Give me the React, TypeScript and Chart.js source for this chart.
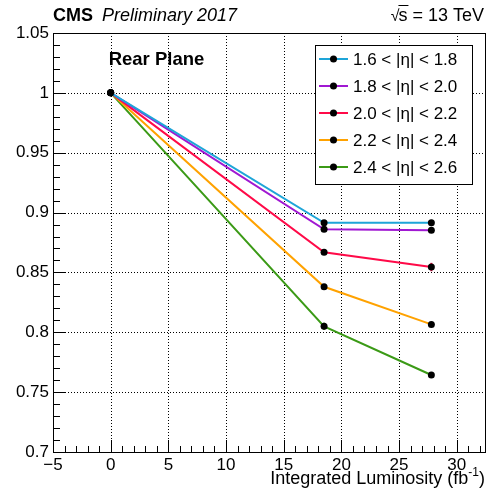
import React, { useEffect, useRef } from "react";
import { Chart, registerables } from "chart.js";

Chart.register(...registerables);

const FONT = '"Liberation Sans", Arial, Helvetica, sans-serif';

const luminosity = [0, 18.5, 27.8];
const seriesLabels = [
  "1.6 < |η| < 1.8",
  "1.8 < |η| < 2.0",
  "2.0 < |η| < 2.2",
  "2.2 < |η| < 2.4",
  "2.4 < |η| < 2.6",
];
const seriesColors = ["#1ea5d8", "#a018d2", "#ff0a48", "#ffa200", "#3b9a16"];
const eta16_18 = [1.0, 0.8915, 0.8915];
const eta18_20 = [1.0, 0.886, 0.8852];
const eta20_22 = [1.0, 0.8668, 0.8545];
const eta22_24 = [1.0, 0.838, 0.8066];
const eta24_26 = [1.0, 0.805, 0.7643];
const err16_18 = [0.0, 0.0015, 0.0015];
const err18_20 = [0.0, 0.0015, 0.0015];
const err20_22 = [0.0, 0.0015, 0.0035];
const err22_24 = [0.0, 0.0015, 0.002];
const err24_26 = [0.0, 0.003, 0.0015];
const seriesValues = [eta16_18, eta18_20, eta20_22, eta22_24, eta24_26];
const seriesErrors = [err16_18, err18_20, err20_22, err22_24, err24_26];

const xMin = -5;
const xMax = 32.45;
const yMin = 0.7;
const yMax = 1.05;

const headerLeftBold = "CMS";
const headerLeftItalic = "Preliminary 2017";
const headerRight = "s = 13 TeV";
const planeLabel = "Rear Plane";
const xTitle = "Integrated Luminosity (fb";

export default function App() {
  const ref = useRef<HTMLCanvasElement | null>(null);

  useEffect(() => {
    document.body.style.margin = "0";
    const canvas = ref.current!;
    const decorPlugin = {
      id: "decor",
      beforeDatasetsDraw(chart: any) {
        const ctx = chart.ctx;
        const { left, right, top, bottom } = chart.chartArea;
        const xs = chart.scales.x;
        const ys = chart.scales.y;
        ctx.save();
        // dotted grid
        ctx.strokeStyle = "#000";
        ctx.lineWidth = 1;
        ctx.setLineDash([1, 2]);
        xs.ticks.forEach((t: any) => {
          const px = Math.round(xs.getPixelForValue(t.value)) + 0.5;
          ctx.beginPath();
          ctx.moveTo(px, top);
          ctx.lineTo(px, bottom);
          ctx.stroke();
        });
        ys.ticks.forEach((t: any) => {
          const py = Math.round(ys.getPixelForValue(t.value)) + 0.5;
          ctx.beginPath();
          ctx.moveTo(left, py);
          ctx.lineTo(right, py);
          ctx.stroke();
        });
        ctx.setLineDash([]);
        // inner ticks
        for (let i = -5; i <= 32; i++) {
          const px = Math.round(xs.getPixelForValue(i)) + 0.5;
          const len = i % 5 === 0 ? 12 : 6;
          ctx.beginPath();
          ctx.moveTo(px, bottom);
          ctx.lineTo(px, bottom - len);
          ctx.stroke();
        }
        for (let k = 70; k <= 105; k++) {
          const v = k / 100;
          const py = Math.round(ys.getPixelForValue(v)) + 0.5;
          const len = k % 5 === 0 ? 13 : 7;
          ctx.beginPath();
          ctx.moveTo(left, py);
          ctx.lineTo(left + len, py);
          ctx.stroke();
        }
        ctx.strokeRect(Math.round(left) + 0.5, Math.round(top) + 0.5, Math.round(right - left), Math.round(bottom - top));
        // error bars
        seriesValues.forEach((vals, si) => {
          ctx.strokeStyle = seriesColors[si];
          ctx.lineWidth = 2;
          vals.forEach((v, j) => {
            const e = seriesErrors[si][j];
            if (!e) return;
            const px = xs.getPixelForValue(luminosity[j]);
            ctx.beginPath();
            ctx.moveTo(px, ys.getPixelForValue(v - e));
            ctx.lineTo(px, ys.getPixelForValue(v + e));
            ctx.stroke();
          });
        });
        ctx.restore();
      },
      afterDraw(chart: any) {
        const ctx = chart.ctx;
        const { left, right, top, bottom } = chart.chartArea;
        ctx.save();
        ctx.fillStyle = "#000";
        ctx.textBaseline = "alphabetic";
        // header
        ctx.textAlign = "left";
        ctx.font = `bold 18px ${FONT}`;
        ctx.fillText(headerLeftBold, left, top - 12);
        const wCms = ctx.measureText(headerLeftBold + " ").width;
        ctx.font = `italic 18px ${FONT}`;
        ctx.fillText(headerLeftItalic, left + wCms + 4, top - 12);
        ctx.font = `18px ${FONT}`;
        ctx.textAlign = "right";
        ctx.fillText(headerRight, right - 1, top - 12);
        const wRight = ctx.measureText(headerRight).width;
        const sW = ctx.measureText("s").width;
        const sx = right - 1 - wRight;
        ctx.textAlign = "right";
        ctx.font = `16px ${FONT}`;
        ctx.fillText("√", sx + 1, top - 12);
        ctx.strokeStyle = "#000";
        ctx.lineWidth = 1;
        ctx.beginPath();
        ctx.moveTo(sx, top - 27.5);
        ctx.lineTo(sx + sW + 1, top - 27.5);
        ctx.stroke();
        // plane label
        ctx.textAlign = "left";
        ctx.font = `bold 18.5px ${FONT}`;
        ctx.fillText(planeLabel, chart.scales.x.getPixelForValue(0) - 2, top + 32);
        // legend
        const lx = right - 170;
        const ly = top + 12;
        const lw = 157;
        const lh = 139;
        ctx.fillStyle = "#fff";
        ctx.fillRect(lx, ly, lw, lh);
        ctx.strokeStyle = "#000";
        ctx.lineWidth = 1;
        ctx.strokeRect(Math.round(lx) + 0.5, Math.round(ly) + 0.5, lw, lh);
        ctx.font = `17px ${FONT}`;
        ctx.textBaseline = "middle";
        seriesLabels.forEach((lab, i) => {
          const cy = ly + 14 + i * 27;
          ctx.strokeStyle = seriesColors[i];
          ctx.lineWidth = 2;
          ctx.beginPath();
          ctx.moveTo(lx + 4, cy);
          ctx.lineTo(lx + 33, cy);
          ctx.stroke();
          ctx.fillStyle = "#000";
          ctx.beginPath();
          ctx.arc(lx + 18.5, cy, 3.5, 0, Math.PI * 2);
          ctx.fill();
          ctx.fillText(lab, lx + 38, cy + 1);
        });
        // x title
        ctx.textBaseline = "alphabetic";
        ctx.textAlign = "left";
        ctx.font = `18px ${FONT}`;
        const wMain = ctx.measureText(xTitle).width;
        ctx.font = `12px ${FONT}`;
        const wSup = ctx.measureText("-1").width;
        ctx.font = `18px ${FONT}`;
        const wClose = ctx.measureText(")").width;
        const tx = right - (wMain + wSup + wClose);
        const ty = bottom + 32;
        ctx.fillText(xTitle, tx, ty);
        ctx.font = `12px ${FONT}`;
        ctx.fillText("-1", tx + wMain, ty - 8);
        ctx.font = `18px ${FONT}`;
        ctx.fillText(")", tx + wMain + wSup, ty);
        ctx.restore();
      },
    };

    const chart = new Chart(canvas, {
      type: "line",
      data: {
        datasets: seriesLabels.map((lab, i) => ({
          label: lab,
          data: luminosity.map((x, j) => ({ x, y: seriesValues[i][j] })),
          borderColor: seriesColors[i],
          backgroundColor: "#000",
          borderWidth: 2,
          pointRadius: 3.5,
          pointBackgroundColor: "#000",
          pointBorderColor: "#000",
          pointBorderWidth: 0,
          tension: 0,
          fill: false,
        })),
      },
      options: {
        animation: false,
        responsive: false,
        devicePixelRatio: 1,
        layout: { padding: { top: 33, right: 9, left: 0, bottom: 0 } },
        plugins: {
          legend: { display: false },
          tooltip: { enabled: false },
          title: { display: false },
        },
        scales: {
          x: {
            type: "linear",
            min: xMin,
            max: xMax,
            afterFit: (s: any) => {
              s.height = 43;
            },
            ticks: {
              stepSize: 5,
              includeBounds: false,
              autoSkip: false,
              maxRotation: 0,
              padding: 3,
              color: "#000",
              font: { family: FONT, size: 17 },
              callback: (v: any) => String(v).replace("-", "\u2212"),
            },
            grid: { display: false, drawTicks: false },
            border: { display: false },
          },
          y: {
            type: "linear",
            min: yMin,
            max: yMax,
            afterFit: (s: any) => {
              s.width = 53;
            },
            ticks: {
              stepSize: 0.05,
              autoSkip: false,
              padding: 4,
              color: "#000",
              font: { family: FONT, size: 17 },
              callback: (v: any) => String(+(+v).toFixed(2)),
            },
            grid: { display: false, drawTicks: false },
            border: { display: false },
          },
        },
      } as any,
      plugins: [decorPlugin],
    });
    return () => chart.destroy();
  }, []);

  return (
    <div style={{ width: 494, height: 495 }}>
      <canvas ref={ref} width={494} height={495} style={{ display: "block" }} />
    </div>
  );
}
